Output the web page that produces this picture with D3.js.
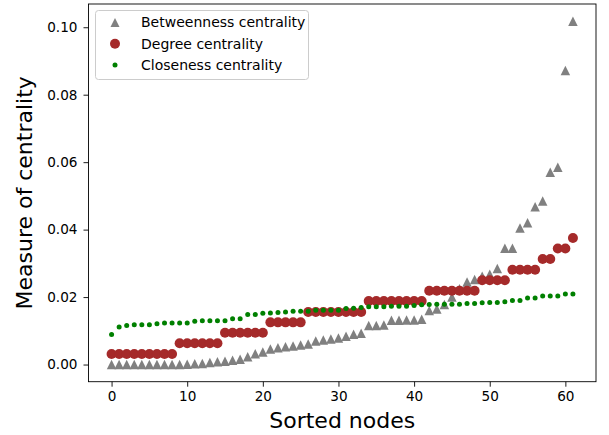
<!DOCTYPE html>
<html>
<head>
<meta charset="utf-8">
<script src="https://cdn.jsdelivr.net/npm/d3@7"></script>
<style>
  body { margin: 0; background: #fff; }
  svg { display: block; font-family: "DejaVu Sans", sans-serif; }
</style>
</head>
<body>
<div id="chart"></div>
<script>
// Values, one per sorted node (index = node rank)
const betweenness = [
  0, 0, 0, 0, 0, 0, 0, 0, 0, 0,
  0.0001, 0.0002, 0.0003, 0.0006, 0.0008, 0.0010, 0.0013, 0.0016, 0.0023, 0.0032,
  0.0037, 0.0046, 0.0050, 0.0053, 0.0055, 0.0058, 0.0061, 0.0070, 0.0073, 0.0076,
  0.0079, 0.0084, 0.0090, 0.0093, 0.0116, 0.0116, 0.0117, 0.0131, 0.0131, 0.0132,
  0.0132, 0.0134, 0.0160, 0.0165, 0.0178, 0.0200, 0.0225, 0.0245, 0.0252, 0.0262,
  0.0268, 0.0285, 0.0345, 0.0345, 0.0405, 0.0420, 0.0468, 0.0485, 0.0570, 0.0585,
  0.0872, 0.1018
];
const degree = [
  0.0031, 0.0031, 0.0031, 0.0031, 0.0031, 0.0031, 0.0031, 0.0031, 0.0031,
  0.0063, 0.0063, 0.0063, 0.0063, 0.0063, 0.0063,
  0.0094, 0.0094, 0.0094, 0.0094, 0.0094, 0.0094,
  0.0125, 0.0125, 0.0125, 0.0125, 0.0125,
  0.0156, 0.0156, 0.0156, 0.0156, 0.0156, 0.0156, 0.0156, 0.0156,
  0.0188, 0.0188, 0.0188, 0.0188, 0.0188, 0.0188, 0.0188, 0.0188,
  0.0219, 0.0219, 0.0219, 0.0219, 0.0219, 0.0219, 0.0219,
  0.0250, 0.0250, 0.0250, 0.0250,
  0.0281, 0.0281, 0.0281, 0.0281,
  0.0313, 0.0313,
  0.0344, 0.0344,
  0.0375
];
const closeness = [
  0.0089, 0.0111, 0.0116, 0.0118, 0.0118, 0.0118, 0.0121, 0.0123, 0.0123, 0.0123,
  0.0123, 0.0128, 0.0130, 0.0130, 0.0130, 0.0130, 0.0136, 0.0136, 0.0148, 0.0148,
  0.0152, 0.0153, 0.0154, 0.0156, 0.0158, 0.0158, 0.0158, 0.0161, 0.0161, 0.0161,
  0.0161, 0.0166, 0.0167, 0.0169, 0.0171, 0.0171, 0.0171, 0.0173, 0.0173, 0.0173,
  0.0175, 0.0177, 0.0178, 0.0179, 0.0179, 0.0179, 0.0179, 0.0181, 0.0181, 0.0183,
  0.0184, 0.0184, 0.0186, 0.0190, 0.0190, 0.0197, 0.0197, 0.0203, 0.0203, 0.0203,
  0.0209, 0.0209
];
const seriesNames = ["Betweenness centrality", "Degree centrality", "Closeness centrality"];
const xTicks = [0, 10, 20, 30, 40, 50, 60];
const yTicks = [0.00, 0.02, 0.04, 0.06, 0.08, 0.10];

const width = 609;
const height = 435;
const plot = { left: 88.5, right: 596, top: 4, bottom: 381.7 };

const drawChart = () => {

  /*******************************/
  /*    Append the container     */
  /*******************************/
  const svg = d3.select("#chart")
    .append("svg")
      .attr("width", width)
      .attr("height", height);

  /****************************/
  /*    Declare the scales    */
  /****************************/
  // matplotlib style 5% margins around the data
  const n = betweenness.length;
  const xPad = (n - 1) * 0.05;
  const xScale = d3.scaleLinear()
    .domain([-xPad, n - 1 + xPad])
    .range([plot.left, plot.right]);

  const allValues = betweenness.concat(degree, closeness);
  const [yMin, yMax] = d3.extent(allValues);
  const yPad = (yMax - yMin) * 0.05;
  const yScale = d3.scaleLinear()
    .domain([yMin - yPad, yMax + yPad])
    .range([plot.bottom, plot.top]);

  /***************************/
  /*     Append the axes     */
  /***************************/
  const bottomAxis = svg
    .append("g")
      .attr("transform", `translate(0, ${plot.bottom})`)
      .call(d3.axisBottom(xScale)
        .tickValues(xTicks)
        .tickFormat(d3.format("d"))
        .tickSize(5)
        .tickPadding(5)
        .tickSizeOuter(0));
  const leftAxis = svg
    .append("g")
      .attr("transform", `translate(${plot.left}, 0)`)
      .call(d3.axisLeft(yScale)
        .tickValues(yTicks)
        .tickFormat(d3.format(".2f"))
        .tickSize(5)
        .tickPadding(6)
        .tickSizeOuter(0));
  [bottomAxis, leftAxis].forEach(axis => {
    axis.select(".domain").remove();
    axis.selectAll("line").attr("stroke", "#000").attr("stroke-width", 0.9);
    axis.selectAll("text")
      .attr("fill", "#000")
      .style("font-family", "DejaVu Sans")
      .style("font-size", "13.6px");
  });

  // Axis labels
  svg
    .append("text")
      .attr("x", (plot.left + plot.right) / 2)
      .attr("y", 428)
      .attr("text-anchor", "middle")
      .style("font-size", "22px")
      .text("Sorted nodes");
  svg
    .append("text")
      .attr("transform", `translate(32, ${(plot.top + plot.bottom) / 2}) rotate(-90)`)
      .attr("text-anchor", "middle")
      .style("font-size", "22px")
      .text("Measure of centrality");

  /*******************************/
  /*        Markers              */
  /*******************************/
  const triangle = (s) => `M0,${-s / 2}L${s / 2},${s / 2}L${-s / 2},${s / 2}Z`;

  svg.append("g")
    .selectAll("path")
    .data(betweenness)
    .join("path")
      .attr("transform", (d, i) => `translate(${xScale(i)}, ${yScale(d)})`)
      .attr("d", triangle(9.5))
      .attr("fill", "gray");

  svg.append("g")
    .selectAll("circle")
    .data(degree)
    .join("circle")
      .attr("cx", (d, i) => xScale(i))
      .attr("cy", d => yScale(d))
      .attr("r", 5)
      .attr("fill", "brown");

  svg.append("g")
    .selectAll("circle")
    .data(closeness)
    .join("circle")
      .attr("cx", (d, i) => xScale(i))
      .attr("cy", d => yScale(d))
      .attr("r", 2.5)
      .attr("fill", "green");

  // Frame around the plot area
  svg
    .append("rect")
      .attr("x", plot.left)
      .attr("y", plot.top)
      .attr("width", plot.right - plot.left)
      .attr("height", plot.bottom - plot.top)
      .attr("fill", "none")
      .attr("stroke", "#000")
      .attr("stroke-width", 0.9);

  /*******************************/
  /*           Legend            */
  /*******************************/
  const legend = svg
    .append("g")
      .attr("transform", "translate(95.5, 10.5)");
  legend
    .append("rect")
      .attr("width", 213)
      .attr("height", 69)
      .attr("rx", 3)
      .attr("fill", "#fff")
      .attr("fill-opacity", 0.8)
      .attr("stroke", "#ccc");

  const rows = legend.selectAll("g.row")
    .data(seriesNames)
    .join("g")
      .attr("class", "row")
      .attr("transform", (d, i) => `translate(0, ${12 + i * 21.3})`);
  rows.filter((d, i) => i === 0)
    .append("path")
      .attr("transform", "translate(19.5, 0)")
      .attr("d", triangle(9))
      .attr("fill", "gray");
  rows.filter((d, i) => i === 1)
    .append("circle")
      .attr("cx", 19.5)
      .attr("r", 5)
      .attr("fill", "brown");
  rows.filter((d, i) => i === 2)
    .append("circle")
      .attr("cx", 19.5)
      .attr("r", 2.5)
      .attr("fill", "green");
  rows
    .append("text")
      .attr("x", 45.5)
      .attr("dy", "0.35em")
      .style("font-size", "14px")
      .text(d => d);
};

drawChart();
</script>
</body>
</html>
